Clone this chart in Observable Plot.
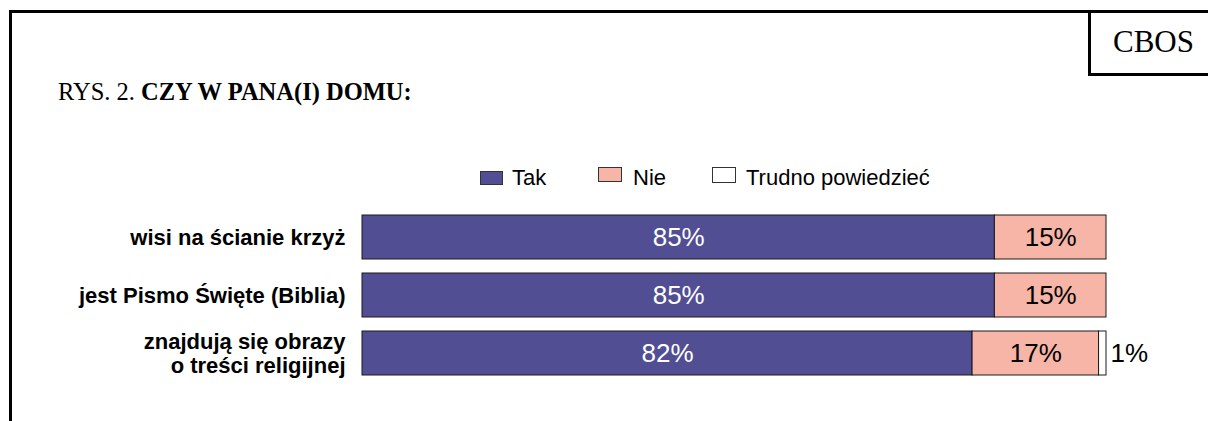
<!DOCTYPE html>
<html>
<head>
<meta charset="utf-8">
<script src="https://cdn.jsdelivr.net/npm/d3@7"></script>
<script src="https://cdn.jsdelivr.net/npm/@observablehq/plot@0.6"></script>
<style>
  html, body { margin: 0; padding: 0; background: #fff; }
  #wrap { position: relative; width: 1208px; height: 421px; overflow: hidden; background: #fff; }
  #frame { position: absolute; left: 9px; top: 10px; width: 1400px; height: 600px; border: 3px solid #000; box-sizing: border-box; }
  #cbos { position: absolute; left: 1088px; top: 10px; width: 200px; height: 66px; border: 3px solid #000; box-sizing: border-box; background: #fff; }
  #cbos span { position: absolute; left: 22px; top: 13px; font-family: "Liberation Serif", "Times New Roman", serif; font-size: 31px; line-height: 1; color: #000; }
  #title { position: absolute; left: 58px; top: 80px; font-family: "Liberation Serif", "Times New Roman", serif; font-size: 24.5px; line-height: 1; color: #000; white-space: nowrap; }
  #title b { font-weight: bold; }
  .sw { position: absolute; box-sizing: border-box; border: 1px solid #333; }
  .lt { position: absolute; font-family: "Liberation Sans", Arial, sans-serif; font-size: 22px; line-height: 1; color: #000; white-space: nowrap; }
  #chart { position: absolute; left: 0; top: 0; }
</style>
</head>
<body>
<div id="wrap">
  <div id="frame"></div>
  <div id="cbos"><span>CBOS</span></div>
  <div id="title">RYS. 2. <b>CZY W PANA(I) DOMU:</b></div>
  <div id="legend"></div>
  <div id="chart"></div>
</div>
<script>
// ---- data ----
const items = [
  "wisi na ścianie krzyż",
  "jest Pismo Święte (Biblia)",
  "znajdują się obrazy\no treści religijnej"
];
const categories = ["Tak", "Nie", "Trudno powiedzieć"];
const colors = ["#514e94", "#f6b5a6", "#ffffff"];
const tak = [85, 85, 82];
const nie = [15, 15, 17];
const trudno = [0, 0, 1];

const table = [];
items.forEach((item, i) => {
  table.push({item, cat: categories[0], value: tak[i]});
  table.push({item, cat: categories[1], value: nie[i]});
  table.push({item, cat: categories[2], value: trudno[i]});
});

// ---- legend (HTML) ----
const legendPos = [
  {sx: 480, sy: 171, w: 23, h: 14, tx: 512},
  {sx: 598, sy: 167, w: 24, h: 15, tx: 633},
  {sx: 712, sy: 167, w: 24, h: 16, tx: 746}
];
const legend = document.getElementById("legend");
categories.forEach((c, i) => {
  const p = legendPos[i];
  const s = document.createElement("div");
  s.className = "sw";
  Object.assign(s.style, {left: p.sx + "px", top: p.sy + "px", width: p.w + "px", height: p.h + "px", background: colors[i]});
  legend.appendChild(s);
  const t = document.createElement("div");
  t.className = "lt";
  t.textContent = c;
  Object.assign(t.style, {left: p.tx + "px", top: "167px"});
  legend.appendChild(t);
});

// ---- chart ----
const chart = Plot.plot({
  width: 1208,
  height: 421,
  marginLeft: 362,
  marginRight: 102,
  marginTop: 215,
  marginBottom: 46,
  style: {fontFamily: "'Liberation Sans', Arial, sans-serif", background: "transparent", overflow: "visible"},
  x: {domain: [0, 100], axis: null},
  y: {domain: items, paddingInner: 0.2414, paddingOuter: 0, axis: null},
  color: {domain: categories, range: colors},
  marks: [
    Plot.barX(table, Plot.stackX({
      x: "value", y: "item", fill: "cat",
      filter: d => d.value > 0,
      stroke: "#1a1a1a", strokeWidth: 1
    })),
    Plot.text(table, Plot.stackX({
      x: "value", y: "item",
      text: d => d.cat === categories[0] ? d.value + "%" : null,
      fill: "#ffffff", fontSize: 26
    })),
    Plot.text(table, Plot.stackX({
      x: "value", y: "item",
      text: d => d.cat === categories[1] ? d.value + "%" : null,
      fill: "#000000", fontSize: 26
    })),
    Plot.text(table, Plot.stackX2({
      x: "value", y: "item",
      text: d => d.cat === categories[2] && d.value > 0 ? d.value + "%" : null,
      fill: "#000000", fontSize: 26, textAnchor: "start", dx: 4
    })),
    Plot.axisY({
      tickSize: 0, tickPadding: 17, fontSize: 22, fontWeight: "bold",
      lineHeight: 1.1, fill: "#000", label: null
    })
  ]
});
document.getElementById("chart").appendChild(chart);
</script>
</body>
</html>
